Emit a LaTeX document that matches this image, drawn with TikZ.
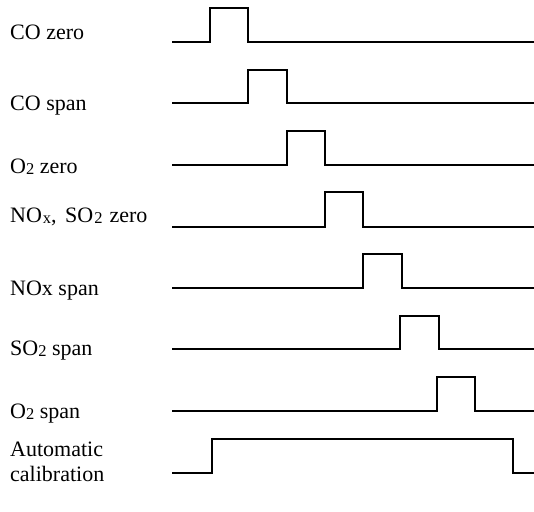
\documentclass[tikz,border=0pt]{standalone}
\usepackage{fontspec}
\setmainfont{Liberation Serif}
\newcommand\mysub[1]{\raisebox{-1pt}{\fontsize{16.5}{16.5}\selectfont #1}}
\begin{document}
\begin{tikzpicture}[x=1pt,y=-1pt,
  sig/.style={line width=2.3pt,line join=miter,line cap=butt},
  lbl/.style={anchor=base west,inner sep=0pt,font=\fontsize{22}{25}\selectfont,align=left}]
\useasboundingbox (0,0) rectangle (534,511);
% labels
\node[lbl] (l1) at (10,39) {CO zero};
\node[lbl] (l2) at (10,110) {CO span};
\node[lbl] (l3) at (10,173) {O\mysub{2} zero};
\node[lbl] (l4) at (10,222) {NO\hspace{1pt}\mysub{x},\hspace{3pt} SO\hspace{1pt}\mysub{2}\hspace{1.5pt} zero};
\node[lbl] (l5) at (10,295) {NOx span};
\node[lbl] (l6) at (10,355) {SO\mysub{2} span};
\node[lbl] (l7) at (10,418) {O\mysub{2} span};
\node[lbl] (l8) at (10,481) {Automatic\\calibration};
% signals
\draw[sig] (172,42) -- (210,42) -- (210,8) -- (248,8) -- (248,42) -- (534,42);
\draw[sig] (172,103) -- (248,103) -- (248,70) -- (287,70) -- (287,103) -- (534,103);
\draw[sig] (172,165) -- (287,165) -- (287,131) -- (325,131) -- (325,165) -- (534,165);
\draw[sig] (172,227) -- (325,227) -- (325,192) -- (363,192) -- (363,227) -- (534,227);
\draw[sig] (172,288) -- (363,288) -- (363,254) -- (402,254) -- (402,288) -- (534,288);
\draw[sig] (172,349) -- (400,349) -- (400,316) -- (439,316) -- (439,349) -- (534,349);
\draw[sig] (172,411) -- (437,411) -- (437,377) -- (475,377) -- (475,411) -- (534,411);
\draw[sig] (172,473) -- (212,473) -- (212,439) -- (513,439) -- (513,473) -- (534,473);
\end{tikzpicture}
\end{document}
